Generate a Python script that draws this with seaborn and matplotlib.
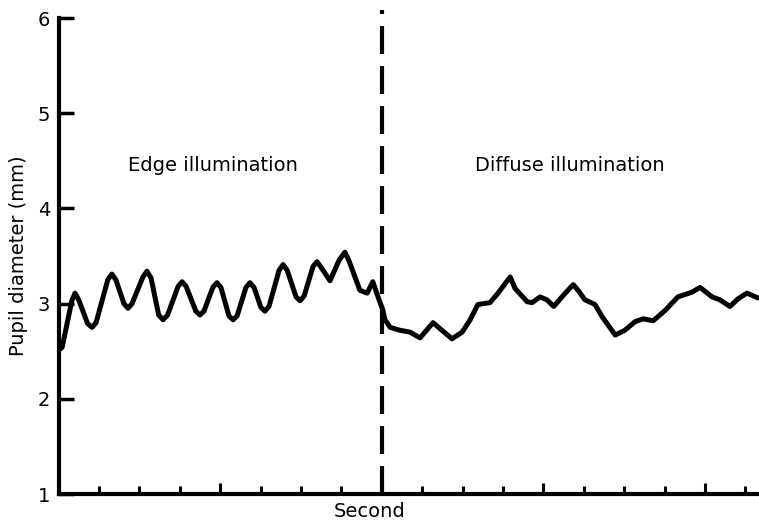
import matplotlib
matplotlib.use("Agg")
import matplotlib.pyplot as plt
from matplotlib.ticker import MultipleLocator
import numpy as np
import pandas as pd
import seaborn as sns

# --- Daten: Pupillendurchmesser (mm) über Zeit (s) ---
time_s = [0.0, 0.09, 0.33, 0.41, 0.50, 0.72, 0.83, 0.93, 1.22, 1.32, 1.42, 1.62,
          1.72, 1.82, 2.09, 2.19, 2.29, 2.48, 2.59, 2.70, 2.96, 3.06, 3.16, 3.40,
          3.50, 3.60, 3.82, 3.92, 4.02, 4.22, 4.32, 4.42, 4.64, 4.74, 4.84, 5.01,
          5.11, 5.21, 5.46, 5.56, 5.66, 5.88, 5.98, 6.08, 6.30, 6.40, 6.50, 6.72,
          6.95, 7.09, 7.19, 7.46, 7.64, 7.78, 7.91, 8.03,
          8.08, 8.21, 8.45, 8.70, 8.95, 9.27, 9.49, 9.74, 9.99, 10.19, 10.38, 10.68,
          10.88, 11.18, 11.30, 11.60, 11.72, 11.92, 12.09, 12.26, 12.46, 12.74, 12.86,
          13.03, 13.28, 13.46, 13.78, 14.02, 14.27, 14.47, 14.72, 15.02, 15.33, 15.68,
          15.88, 16.18, 16.37, 16.62, 16.82, 17.04, 17.31]
pupil_mm = [2.51, 2.54, 3.03, 3.11, 3.04, 2.79, 2.75, 2.80, 3.25, 3.31, 3.25, 3.00,
            2.95, 3.00, 3.28, 3.34, 3.27, 2.88, 2.83, 2.88, 3.18, 3.23, 3.18, 2.92,
            2.88, 2.92, 3.17, 3.22, 3.17, 2.87, 2.83, 2.87, 3.17, 3.22, 3.17, 2.96,
            2.92, 2.97, 3.35, 3.41, 3.35, 3.07, 3.03, 3.08, 3.39, 3.44, 3.38, 3.24,
            3.46, 3.54, 3.45, 3.14, 3.11, 3.23, 3.07, 2.93,
            2.83, 2.75, 2.72, 2.70, 2.64, 2.80, 2.72, 2.63, 2.70, 2.83, 2.99, 3.01,
            3.11, 3.28, 3.16, 3.02, 3.01, 3.07, 3.04, 2.97, 3.07, 3.20, 3.14,
            3.04, 2.99, 2.86, 2.67, 2.72, 2.81, 2.84, 2.82, 2.93, 3.07, 3.12,
            3.17, 3.07, 3.04, 2.97, 3.05, 3.11, 3.06]

switch_time = 8
phase_labels = ["Edge illumination", "Diffuse illumination"]
phase_label_x = [3.82, 12.66]
phase_label_y = 4.45
y_ticks = [1, 2, 3, 4, 5, 6]

df = pd.DataFrame({"Second": time_s, "Pupil diameter (mm)": pupil_mm})

sns.set_style("ticks")
plt.rcParams["font.family"] = ["DejaVu Sans"]
plt.rcParams["text.color"] = "black"
plt.rcParams["axes.labelcolor"] = "black"

fig = plt.figure(figsize=(7.59, 5.25), dpi=100)
ax = fig.add_axes([58.5 / 759, 31 / 525, 1 - 58.5 / 759, 476 / 525])

sns.lineplot(data=df, x="Second", y="Pupil diameter (mm)", ax=ax, color="black",
             linewidth=3.6, solid_joinstyle="round", solid_capstyle="round", sort=False)

# Umschaltzeitpunkt als gestrichelte Linie
ax.axvline(switch_time, ymin=0, ymax=1.017, color="black", linewidth=3,
           linestyle=(0, (6.7, 2.9)), clip_on=False)

for lbl, lx in zip(phase_labels, phase_label_x):
    ax.text(lx, phase_label_y, lbl, ha="center", va="center", fontsize=14)

ax.set_xlim(0, (759 - 58.5) / 40.4)
ax.set_ylim(1, 6)
ax.set_yticks(y_ticks)
ax.xaxis.set_major_locator(MultipleLocator(4))
ax.xaxis.set_minor_locator(MultipleLocator(1))
ax.set_xticklabels([])

sns.despine(ax=ax)
for side in ["left", "bottom"]:
    ax.spines[side].set_linewidth(3)
    ax.spines[side].set_color("black")
ax.tick_params(axis="y", direction="in", length=11, width=2.5, labelsize=14, pad=6,
               color="black", labelcolor="black")
ax.tick_params(axis="x", which="major", direction="in", length=8, width=2.2, color="black")
ax.tick_params(axis="x", which="minor", direction="in", length=6, width=2.2, color="black")

ax.set_xlabel("Second", fontsize=14)
ax.set_ylabel("Pupil diameter (mm)", fontsize=14)
ax.xaxis.set_label_coords((370 - 58.5) / 700.5, -0.016)
ax.xaxis.label.set_va("top")
ax.yaxis.set_label_coords(-0.043, 0.5)

fig.savefig("out.png", dpi=100)
